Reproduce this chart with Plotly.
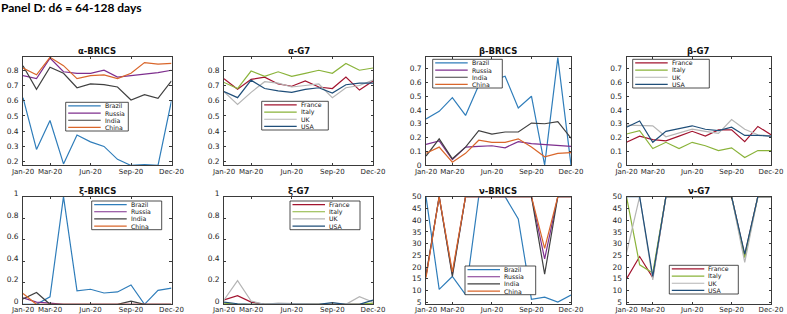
import plotly.graph_objects as go

# ---------------- data ----------------
months = ["Jan-20", "Feb-20", "Mar-20", "Apr-20", "May-20", "Jun-20",
          "Jul-20", "Aug-20", "Sep-20", "Oct-20", "Nov-20", "Dec-20"]
tick_months = ["Jan-20", "Mar-20", "Jun-20", "Sep-20", "Dec-20"]
brics = ["Brazil", "Russia", "India", "China"]
g7 = ["France", "Italy", "UK", "USA"]

alpha_brics_brazil = [0.62, 0.28, 0.47, 0.185, 0.375, 0.33, 0.30, 0.215, 0.175, 0.18, 0.175, 0.60]
alpha_brics_russia = [0.765, 0.745, 0.88, 0.79, 0.78, 0.78, 0.80, 0.755, 0.765, 0.775, 0.785, 0.80]
alpha_brics_india = [0.83, 0.675, 0.82, 0.78, 0.685, 0.71, 0.705, 0.69, 0.605, 0.64, 0.615, 0.73]
alpha_brics_china = [0.815, 0.77, 0.885, 0.83, 0.745, 0.765, 0.77, 0.745, 0.78, 0.85, 0.84, 0.845]

alpha_g7_france = [0.745, 0.675, 0.74, 0.755, 0.71, 0.695, 0.73, 0.69, 0.68, 0.755, 0.67, 0.73]
alpha_g7_italy = [0.72, 0.68, 0.795, 0.76, 0.79, 0.76, 0.78, 0.80, 0.78, 0.845, 0.80, 0.815]
alpha_g7_uk = [0.66, 0.575, 0.655, 0.725, 0.715, 0.69, 0.70, 0.71, 0.62, 0.685, 0.70, 0.735]
alpha_g7_usa = [0.66, 0.62, 0.735, 0.68, 0.665, 0.655, 0.675, 0.685, 0.65, 0.705, 0.715, 0.715]

beta_brics_brazil = [0.335, 0.39, 0.49, 0.36, 0.58, 0.61, 0.645, 0.415, 0.50, 0.0, 0.78, 0.0]
beta_brics_russia = [0.15, 0.175, 0.04, 0.13, 0.135, 0.14, 0.125, 0.17, 0.155, 0.15, 0.145, 0.135]
beta_brics_india = [0.065, 0.19, 0.045, 0.13, 0.25, 0.225, 0.24, 0.24, 0.305, 0.30, 0.315, 0.195]
beta_brics_china = [0.085, 0.13, 0.02, 0.085, 0.18, 0.165, 0.165, 0.19, 0.13, 0.06, 0.085, 0.09]

beta_g7_france = [0.165, 0.21, 0.185, 0.175, 0.21, 0.245, 0.21, 0.255, 0.255, 0.17, 0.28, 0.22]
beta_g7_italy = [0.225, 0.25, 0.12, 0.165, 0.12, 0.165, 0.14, 0.105, 0.125, 0.055, 0.105, 0.105]
beta_g7_uk = [0.29, 0.29, 0.285, 0.205, 0.235, 0.26, 0.245, 0.23, 0.33, 0.26, 0.22, 0.21]
beta_g7_usa = [0.275, 0.32, 0.165, 0.245, 0.265, 0.285, 0.26, 0.25, 0.275, 0.215, 0.215, 0.21]

xi_brics_brazil = [0.0, 0.0, 0.07, 1.0, 0.125, 0.14, 0.105, 0.115, 0.18, 0.0, 0.13, 0.15]
xi_brics_russia = [0.06, 0.02, 0.01, 0.0, 0.0, 0.0, 0.0, 0.0, 0.0, 0.0, 0.0, 0.0]
xi_brics_india = [0.05, 0.11, 0.0, 0.0, 0.0, 0.0, 0.0, 0.0, 0.03, 0.0, 0.0, 0.0]
xi_brics_china = [0.10, 0.0, 0.0, 0.0, 0.0, 0.0, 0.0, 0.0, 0.0, 0.0, 0.0, 0.0]

xi_g7_france = [0.04, 0.08, 0.02, 0.0, 0.0, 0.0, 0.0, 0.0, 0.0, 0.0, 0.0, 0.0]
xi_g7_italy = [0.01, 0.0, 0.0, 0.0, 0.0, 0.0, 0.0, 0.0, 0.0, 0.0, 0.0, 0.01]
xi_g7_uk = [0.04, 0.22, 0.03, 0.0, 0.01, 0.005, 0.0, 0.0, 0.0, 0.0, 0.07, 0.02]
xi_g7_usa = [0.02, 0.005, 0.0, 0.0, 0.0, 0.0, 0.0, 0.0, 0.015, 0.0, 0.0, 0.04]

nu_brics_brazil = [50, 10.5, 16, 8.3, 50, 50, 50, 40.5, 6.3, 7.2, 5.1, 8.1]
nu_brics_russia = [16, 50, 17, 50, 50, 50, 50, 50, 50, 23.5, 50, 50]
nu_brics_india = [16.5, 50, 16, 50, 50, 50, 50, 50, 50, 17, 50, 50]
nu_brics_china = [15.5, 50, 18, 50, 50, 50, 50, 50, 50, 28, 50, 50]

nu_g7_france = [15, 24.5, 15.5, 50, 50, 50, 50, 50, 50, 25, 50, 50]
nu_g7_italy = [50, 21, 17.5, 50, 50, 50, 50, 50, 50, 24, 50, 50]
nu_g7_uk = [26, 50, 14.5, 50, 50, 50, 50, 50, 50, 22, 50, 50]
nu_g7_usa = [50, 50, 16, 50, 50, 50, 50, 50, 50, 25.5, 50, 50]

alpha_ticks = [0.2, 0.3, 0.4, 0.5, 0.6, 0.7, 0.8]
beta_ticks = [0, 0.1, 0.2, 0.3, 0.4, 0.5, 0.6, 0.7]
xi_ticks = [0, 0.2, 0.4, 0.6, 0.8, 1]
nu_ticks = [5, 10, 15, 20, 25, 30, 35, 40, 45, 50]

# ---------------- styling ----------------
colors = {
    "Brazil": "#2F7DBA", "Russia": "#7E2F8E", "India": "#404040", "China": "#D9662B",
    "France": "#A2142F", "Italy": "#8AB33A", "UK": "#B5B5B5", "USA": "#1F4E79",
}
W, H = 787, 314
col_px = [(23, 171.5), (224, 373), (426, 571), (626.5, 771)]
row_px = [(57, 165), (196.7, 304.3)]
FONT = "DejaVu Sans"
AXC = "#3a3a3a"

panels = [
    ("α-BRICS", brics, [alpha_brics_brazil, alpha_brics_russia, alpha_brics_india, alpha_brics_china],
     [0.178, 0.887], alpha_ticks, (65.7, 102.3, 128.3, 131.0)),
    ("α-G7", g7, [alpha_g7_france, alpha_g7_italy, alpha_g7_uk, alpha_g7_usa],
     [0.178, 0.887], alpha_ticks, (261.7, 101.3, 328.3, 130.0)),
    ("β-BRICS", brics, [beta_brics_brazil, beta_brics_russia, beta_brics_india, beta_brics_china],
     [0, 0.785], beta_ticks, (432.7, 59.3, 502.3, 88.0)),
    ("β-G7", g7, [beta_g7_france, beta_g7_italy, beta_g7_uk, beta_g7_usa],
     [0, 0.785], beta_ticks, (632.7, 59.3, 709.3, 88.0)),
    ("ξ-BRICS", brics, [xi_brics_brazil, xi_brics_russia, xi_brics_india, xi_brics_china],
     [0, 1], xi_ticks, (91.7, 201.0, 161.7, 229.7)),
    ("ξ-G7", g7, [xi_g7_france, xi_g7_italy, xi_g7_uk, xi_g7_usa],
     [0, 1], xi_ticks, (290.0, 201.0, 360.0, 229.7)),
    ("ν-BRICS", brics, [nu_brics_brazil, nu_brics_russia, nu_brics_india, nu_brics_china],
     [4.15, 50], nu_ticks, (465.0, 266.0, 535.7, 294.7)),
    ("ν-G7", g7, [nu_g7_france, nu_g7_italy, nu_g7_uk, nu_g7_usa],
     [4.15, 50], nu_ticks, (669.3, 265.3, 738.3, 294.0)),
]

fig = go.Figure()
layout = dict(width=W, height=H, margin=dict(l=0, r=0, t=0, b=0),
              paper_bgcolor="white", plot_bgcolor="white", showlegend=False)
annotations = []
shapes = []

def px(x):
    return x / W

def py(y):
    return 1 - y / H

for i, (title, names, series, yr, yt, leg) in enumerate(panels):
    r, c = divmod(i, 4)
    k = "" if i == 0 else str(i + 1)
    x0, x1 = col_px[c]
    y0, y1 = row_px[r]
    for nm, vals in zip(names, series):
        fig.add_trace(go.Scatter(x=months, y=vals, mode="lines", name=nm,
                                 line=dict(color=colors[nm], width=1.2),
                                 xaxis="x" + k, yaxis="y" + k, hoverinfo="skip"))
    common = dict(showline=True, mirror="ticks", linecolor=AXC, linewidth=0.8,
                  ticks="inside", ticklen=2.5, tickcolor=AXC, tickwidth=0.8,
                  showgrid=False, zeroline=False, fixedrange=True, automargin=False)
    layout["xaxis" + k] = dict(domain=[px(x0), px(x1)], anchor="y" + k, type="category",
                               categoryorder="array", categoryarray=months,
                               range=[0, 11], tickmode="array", tickvals=tick_months,
                               ticktext=tick_months, tickangle=0,
                               ticklabelstandoff=(-2 if r == 1 else 0),
                               tickfont=dict(family=FONT, size=7, color="#262626"), **common)
    layout["yaxis" + k] = dict(domain=[py(y1), py(y0)], anchor="x" + k, range=yr,
                               tickmode="array", tickvals=yt, ticklabelstandoff=2,
                               ticklabelshift=(-3 if i in (4, 5) else 0),
                               tickfont=dict(family=FONT, size=7.5, color="#262626"), **common)
    annotations.append(dict(text="<b>%s</b>" % title, x=px((x0 + x1) / 2), y=py(y0),
                            xref="paper", yref="paper", xanchor="center", yanchor="bottom",
                            showarrow=False, font=dict(family=FONT, size=8.5, color="#111"),
                            yshift=-1))
    # legend box
    lx0, ly0, lx1, ly1 = leg
    shapes.append(dict(type="rect", xref="paper", yref="paper", x0=px(lx0), x1=px(lx1),
                       y0=py(ly1), y1=py(ly0), line=dict(color="#222", width=0.8),
                       fillcolor="white", layer="above"))
    rh = (ly1 - ly0) / 4
    for j, nm in enumerate(names):
        yc = ly0 + (j + 0.5) * rh
        shapes.append(dict(type="line", xref="paper", yref="paper",
                           x0=px(lx0 + 2.5), x1=px(lx0 + 35), y0=py(yc), y1=py(yc),
                           line=dict(color=colors[nm], width=1.2), layer="above"))
        annotations.append(dict(text=nm, x=px(lx0 + 38), y=py(yc), xref="paper", yref="paper",
                                xanchor="left", yanchor="middle", showarrow=False,
                                borderpad=0,
                                font=dict(family=FONT, size=6.2, color="#111")))

annotations.append(dict(text="<b>Panel D: d6 = 64-128 days</b>", x=0, y=1, xref="paper",
                        yref="paper", xanchor="left", yanchor="top", showarrow=False,
                        font=dict(family="Lato", size=12, color="black"), xshift=-1, yshift=2))

layout["annotations"] = annotations
layout["shapes"] = shapes
fig.update_layout(**layout)
fig.write_html("out.html", config={"displayModeBar": False},
               post_script="document.body.style.margin='0';document.body.style.overflow='hidden';")
